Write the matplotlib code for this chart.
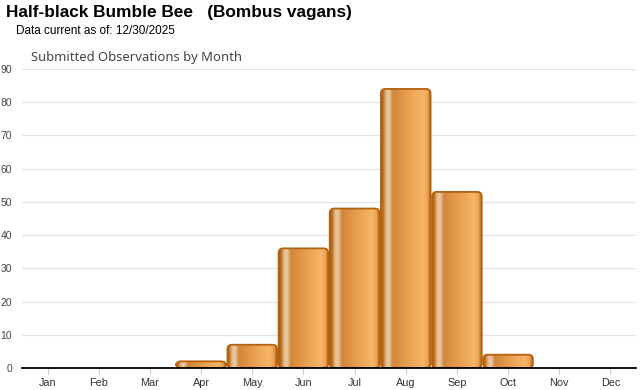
import numpy as np
import matplotlib
matplotlib.use("Agg")
import matplotlib.pyplot as plt
from matplotlib.patches import FancyBboxPatch
from matplotlib.colors import LinearSegmentedColormap

months = ["Jan", "Feb", "Mar", "Apr", "May", "Jun", "Jul", "Aug", "Sep", "Oct", "Nov", "Dec"]
counts = [0, 0, 0, 2, 7, 36, 48, 84, 53, 4, 0, 0]
yticks = [0, 10, 20, 30, 40, 50, 60, 70, 80, 90]

title = "Half-black Bumble Bee   (Bombus vagans)"
subtitle = "Data current as of: 12/30/2025"
chart_title = "Submitted Observations by Month"

fig = plt.figure(figsize=(6.4, 3.9), dpi=100)
ax = fig.add_axes([22/640, 22/390, 614/640, 299/390])

cmap = LinearSegmentedColormap.from_list("bar", [
    (0.00, "#B05A08"),
    (0.05, "#C47425"),
    (0.10, "#E2BC90"),
    (0.16, "#EAC9A0"),
    (0.24, "#D2853A"),
    (0.55, "#E9A050"),
    (0.85, "#F7B668"),
    (0.94, "#E8A050"),
    (1.00, "#B05A08"),
])
grad = np.linspace(0, 1, 256).reshape(1, -1)

ax.set_xlim(-0.5, 11.5)
ax.set_ylim(0, 90)

x_px = 614/12
y_px = 299/90
bw = 0.97
r_px = 4.5
for i, v in enumerate(counts):
    if v <= 0:
        continue
    x0 = i - bw/2
    patch = FancyBboxPatch((x0, 0), bw, v,
                           boxstyle=f"round,pad=0,rounding_size={r_px/x_px}",
                           mutation_aspect=x_px/y_px,
                           facecolor="none", edgecolor="#B3620F", linewidth=1.3, zorder=3)
    ax.add_patch(patch)
    im = ax.imshow(grad, extent=[x0, x0 + bw, 0, v], aspect="auto", cmap=cmap,
                   interpolation="bilinear", zorder=2)
    im.set_clip_path(patch)

ax.set_xlim(-0.5, 11.5)
ax.set_ylim(0, 90)

ax.set_yticks(yticks)
ax.set_xticks(range(12))
ax.set_xticklabels(months)
ax.grid(axis="y", color="#e3e3e3", linewidth=0.9, zorder=0)
ax.set_axisbelow(True)
for s in ["top", "right", "left"]:
    ax.spines[s].set_visible(False)
ax.spines["bottom"].set_color("black")
ax.spines["bottom"].set_linewidth(1.3)
ax.spines["bottom"].set_zorder(4)
ax.tick_params(axis="y", length=0, labelsize=7.5, labelcolor="#444444", pad=7)
ax.tick_params(axis="x", length=4, color="#cccccc", labelsize=7.8, labelcolor="#333333", pad=3)
for t in ax.get_xticklabels() + ax.get_yticklabels():
    t.set_fontfamily("Liberation Sans")

fig.text(6/640, 1 - 5/390, title, fontsize=12.4, fontweight="bold",
         family="Liberation Sans", va="top", ha="left", color="black")
fig.text(16/640, 1 - 25/390, subtitle, fontsize=8.5,
         family="Liberation Sans", va="top", ha="left", color="black")
fig.text(31/640, 1 - 51/390, chart_title, fontsize=9.4,
         family="Noto Sans", va="top", ha="left", color="#444444")

fig.savefig("out.png", dpi=100)
